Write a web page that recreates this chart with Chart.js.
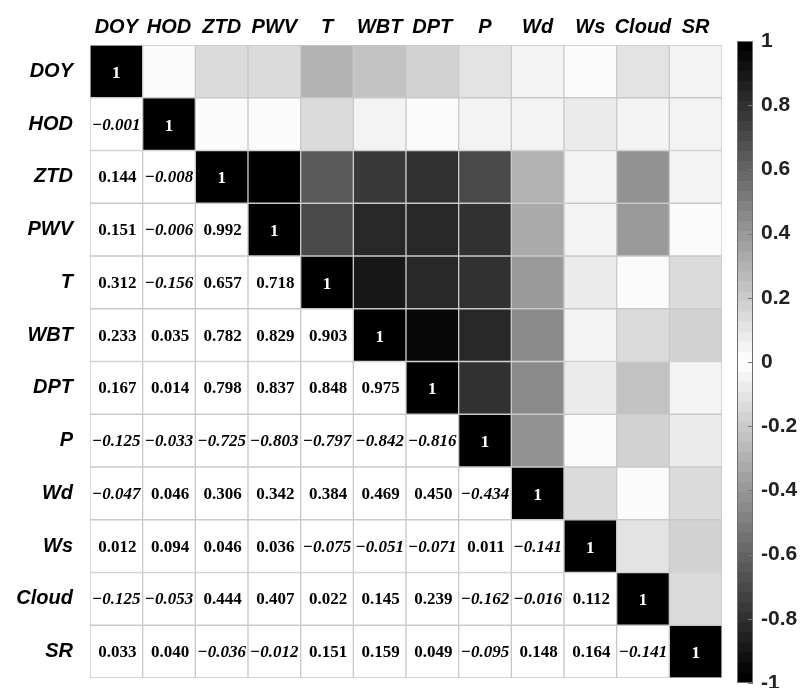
<!DOCTYPE html>
<html>
<head>
<meta charset="utf-8">
<script src="https://cdn.jsdelivr.net/npm/chart.js@4/dist/chart.umd.min.js"></script>
<style>
  html, body { margin: 0; padding: 0; background: #fff; }
  #wrap { position: relative; width: 803px; height: 688px; }
  #matrix { position: absolute; left: 0; top: 0; }
  #cbar { position: absolute; left: 722px; top: 0; }
</style>
</head>
<body>
<div id="wrap">
  <canvas id="matrix" width="803" height="688"></canvas>
  <canvas id="cbar" width="81" height="688"></canvas>
</div>
<script>
// Variable names (rows top to bottom, columns left to right)
const variables = ['DOY', 'HOD', 'ZTD', 'PWV', 'T', 'WBT', 'DPT', 'P', 'Wd', 'Ws', 'Cloud', 'SR'];

// Lower triangle of the Pearson correlation matrix, one array per row
const rowDOY   = [1];
const rowHOD   = [-0.001, 1];
const rowZTD   = [0.144, -0.008, 1];
const rowPWV   = [0.151, -0.006, 0.992, 1];
const rowT     = [0.312, -0.156, 0.657, 0.718, 1];
const rowWBT   = [0.233, 0.035, 0.782, 0.829, 0.903, 1];
const rowDPT   = [0.167, 0.014, 0.798, 0.837, 0.848, 0.975, 1];
const rowP     = [-0.125, -0.033, -0.725, -0.803, -0.797, -0.842, -0.816, 1];
const rowWd    = [-0.047, 0.046, 0.306, 0.342, 0.384, 0.469, 0.450, -0.434, 1];
const rowWs    = [0.012, 0.094, 0.046, 0.036, -0.075, -0.051, -0.071, 0.011, -0.141, 1];
const rowCloud = [-0.125, -0.053, 0.444, 0.407, 0.022, 0.145, 0.239, -0.162, -0.016, 0.112, 1];
const rowSR    = [0.033, 0.040, -0.036, -0.012, 0.151, 0.159, 0.049, -0.095, 0.148, 0.164, -0.141, 1];

// Colour bar tick labels
const colorbarTicks = ['1', '0.8', '0.6', '0.4', '0.2', '0', '-0.2', '-0.4', '-0.6', '-0.8', '-1'];

const lower = [rowDOY, rowHOD, rowZTD, rowPWV, rowT, rowWBT, rowDPT, rowP, rowWd, rowWs, rowCloud, rowSR];
const n = variables.length;
const corr = (i, j) => (i >= j ? lower[i][j] : lower[j][i]);

// 64-step grey map: black at -1 and +1, white at 0
const LEVELS = 64;
function levelGrey(k) {
  const g = Math.round(255 * (1 - Math.abs(k - (LEVELS - 1) / 2) / ((LEVELS - 1) / 2)));
  return `rgb(${g},${g},${g})`;
}
function valueGrey(v) {
  const k = Math.round((v + 1) / 2 * (LEVELS - 1));
  return levelGrey(k);
}

// One stacked dataset per row; upper triangle + diagonal shaded, lower triangle white
const datasets = variables.map((name, i) => ({
  label: name,
  data: variables.map(() => 1),
  backgroundColor: variables.map((_, j) => (j >= i ? valueGrey(corr(i, j)) : '#ffffff')),
  borderColor: '#c9c9c9',
  borderWidth: 1,
  borderSkipped: false,
  categoryPercentage: 1,
  barPercentage: 1
}));

const serif = '"Liberation Serif", "Times New Roman", serif';
const cellText = {
  id: 'cellText',
  afterDatasetsDraw(chart) {
    const ctx = chart.ctx;
    const xs = chart.scales.x, ys = chart.scales.y;
    ctx.save();
    ctx.textAlign = 'center';
    ctx.textBaseline = 'middle';
    for (let i = 0; i < n; i++) {
      for (let j = 0; j <= i; j++) {
        const v = corr(i, j);
        const x = xs.getPixelForValue(j);
        const y = ys.getPixelForValue(i + 0.5);
        if (i === j) {
          ctx.fillStyle = '#ffffff';
          ctx.font = 'bold 17px ' + serif;
          ctx.fillText('1', x, y + 2);
        } else {
          ctx.fillStyle = '#000000';
          if (v < 0) {
            ctx.font = 'italic bold 17px ' + serif;
            ctx.fillText('\u2212' + Math.abs(v).toFixed(3), x, y + 1);
          } else {
            ctx.font = 'bold 17px ' + serif;
            ctx.fillText(v.toFixed(3), x + 1, y + 1);
          }
        }
      }
    }
    ctx.restore();
  }
};

const labelFont = { family: '"Liberation Sans", Arial, sans-serif', size: 20, weight: 'bold', style: 'italic' };
const noEdgePad = (s) => { s.paddingTop = 0; s.paddingBottom = 0; s.paddingLeft = 0; s.paddingRight = 0; };

new Chart(document.getElementById('matrix'), {
  type: 'bar',
  data: { labels: variables, datasets },
  options: {
    responsive: false,
    animation: false,
    layout: { padding: { top: 0, left: 0, right: 81, bottom: 10 } },
    plugins: { legend: { display: false }, tooltip: { enabled: false } },
    scales: {
      x: {
        type: 'category',
        position: 'top',
        stacked: true,
        grid: { display: false, drawTicks: false },
        border: { display: false },
        ticks: { color: '#000', font: labelFont, padding: 6, maxRotation: 0, autoSkip: false },
        afterFit: (s) => { s.height = 45; noEdgePad(s); }
      },
      y: {
        type: 'linear',
        stacked: true,
        reverse: true,
        min: 0,
        max: n,
        grid: { display: false, drawTicks: false },
        border: { display: false },
        afterBuildTicks: (s) => { s.ticks = variables.map((_, i) => ({ value: i + 0.5 })); },
        ticks: {
          color: '#000',
          font: labelFont,
          padding: 17,
          autoSkip: false,
          callback: (v, idx) => variables[idx]
        },
        afterFit: (s) => { s.width = 90; noEdgePad(s); }
      }
    }
  },
  plugins: [cellText]
});

// Colour bar: 64 floating bars covering -1..1
const cbDatasets = [];
for (let k = 0; k < LEVELS; k++) {
  const lo = -1 + k * 2 / LEVELS;
  cbDatasets.push({
    data: [[lo, lo + 2 / LEVELS]],
    backgroundColor: levelGrey(k),
    borderWidth: 0,
    grouped: false,
    categoryPercentage: 1,
    barPercentage: 1
  });
}

const cbFrame = {
  id: 'cbFrame',
  afterDatasetsDraw(chart) {
    const { ctx, chartArea: a } = chart;
    const ys = chart.scales.y;
    ctx.save();
    ctx.strokeStyle = '#6e6e6e';
    ctx.lineWidth = 1;
    ctx.strokeRect(a.left + 0.5, a.top + 0.5, a.right - a.left - 1, a.bottom - a.top - 1);
    ctx.strokeStyle = '#777';
    ys.ticks.forEach((t) => {
      const y = Math.round(ys.getPixelForValue(t.value)) + 0.5;
      ctx.beginPath();
      ctx.moveTo(a.right - 5, y);
      ctx.lineTo(a.right, y);
      ctx.stroke();
    });
    ctx.restore();
  }
};

new Chart(document.getElementById('cbar'), {
  type: 'bar',
  data: { labels: [''], datasets: cbDatasets },
  options: {
    responsive: false,
    animation: false,
    layout: { padding: { top: 41, left: 15, right: 0, bottom: 5 } },
    plugins: { legend: { display: false }, tooltip: { enabled: false } },
    scales: {
      x: { display: false },
      y: {
        position: 'right',
        min: -1,
        max: 1,
        grid: { display: false, drawTicks: false },
        border: { display: false },
        afterBuildTicks: (s) => { s.ticks = colorbarTicks.map((t) => ({ value: parseFloat(t) })); },
        ticks: {
          color: '#222',
          font: { family: '"Liberation Sans", Arial, sans-serif', size: 21, weight: 'bold' },
          padding: 8,
          autoSkip: false,
          callback: (v) => colorbarTicks.find((t) => parseFloat(t) === v)
        },
        afterFit: (s) => { s.width = 50; noEdgePad(s); }
      }
    }
  },
  plugins: [cbFrame]
});
</script>
</body>
</html>
